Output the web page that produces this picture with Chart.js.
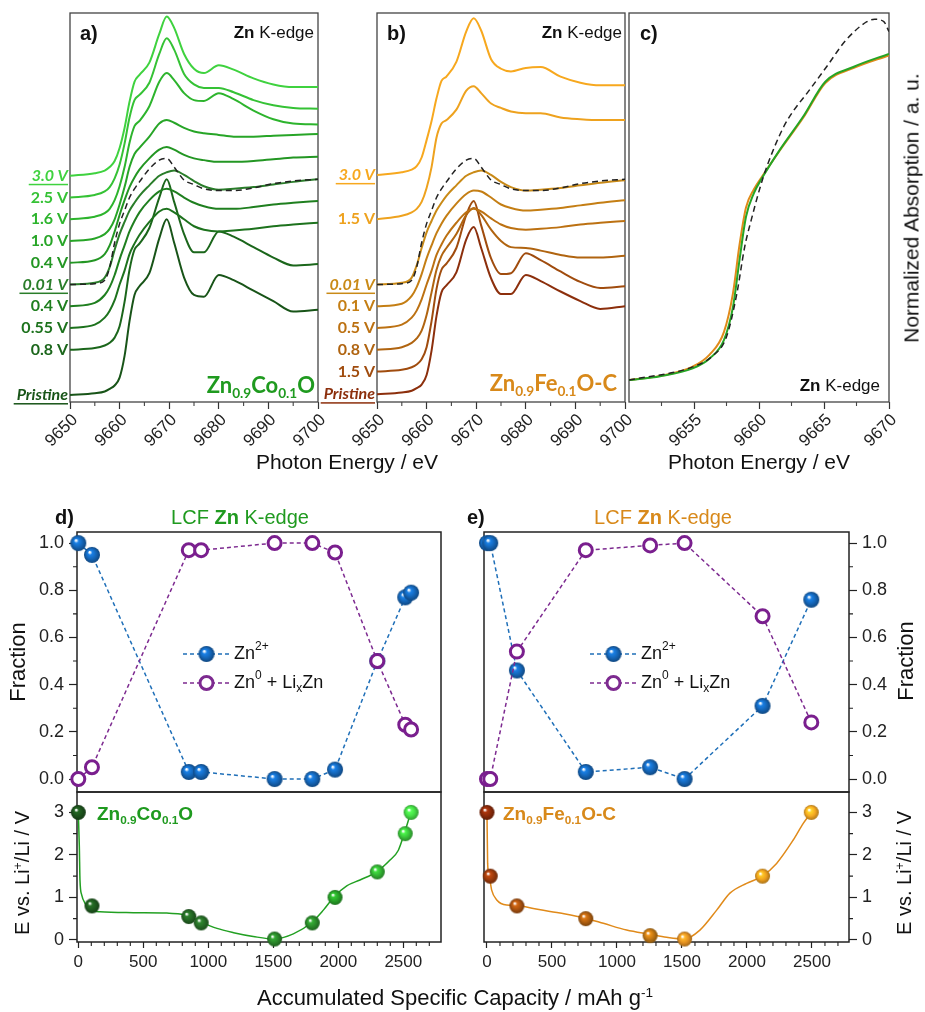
<!DOCTYPE html>
<html>
<head>
<meta charset="utf-8">
<script src="https://cdn.jsdelivr.net/npm/chart.js@4.4.1/dist/chart.umd.min.js"></script>
<style>
  body { margin: 0; background: #fff; width: 925px; height: 1012px; position: relative; overflow: hidden;
         font-family: "Liberation Sans", Arial, sans-serif; color: #111; }
  canvas { position: absolute; }
  .t { position: absolute; white-space: nowrap; line-height: 1; }
  .l { transform: translate(0, -50%); }
  .r { transform: translate(-100%, -50%); }
  .c { transform: translate(-50%, -50%); }
  .v { transform: translate(-50%, -50%) rotate(-90deg); }
  .cal { font-family: Lato, "Open Sans", sans-serif; font-weight: 700; }
  sub { font-size: 0.62em; vertical-align: -0.35em; line-height: 0; }
  sup { font-size: 0.62em; vertical-align: 0.6em; line-height: 0; }
</style>
</head>
<body>
<canvas id="ca" width="340" height="470" style="left:0;top:0"></canvas>
<canvas id="cb" width="345" height="470" style="left:300px;top:0"></canvas>
<canvas id="cc" width="309" height="470" style="left:600px;top:0"></canvas>
<canvas id="cdu" width="460" height="312" style="left:0;top:500px"></canvas>
<canvas id="cdl" width="460" height="230" style="left:0;top:770px"></canvas>
<canvas id="ceu" width="455" height="312" style="left:470px;top:500px"></canvas>
<canvas id="cel" width="455" height="230" style="left:470px;top:770px"></canvas>

<div class="t l" style="left:80px;top:33px;font-size:20px;font-weight:bold">a)</div>
<div class="t r" style="left:314px;top:32px;font-size:17px"><b>Zn</b> K-edge</div>
<div class="t r cal" style="left:315px;top:385px;font-size:22px;color:#1f9a1f">Zn<sub>0.9</sub>Co<sub>0.1</sub>O</div>
<div class="t l" style="left:387px;top:33px;font-size:20px;font-weight:bold">b)</div>
<div class="t r" style="left:622px;top:32px;font-size:17px"><b>Zn</b> K-edge</div>
<div class="t r cal" style="left:617px;top:383px;font-size:22px;color:#d8891a">Zn<sub>0.9</sub>Fe<sub>0.1</sub>O-C</div>
<div class="t l" style="left:640px;top:33px;font-size:20px;font-weight:bold">c)</div>
<div class="t r" style="left:880px;top:385px;font-size:17px"><b>Zn</b> K-edge</div>
<div class="t c" style="left:347px;top:461px;font-size:21px">Photon Energy / eV</div>
<div class="t c" style="left:759px;top:461px;font-size:21px">Photon Energy / eV</div>
<div class="t v" style="left:911px;top:208px;font-size:21px">Normalized Absorption / a. u.</div>

<div class="t l" style="left:55px;top:517px;font-size:20px;font-weight:bold">d)</div>
<div class="t c" style="left:240px;top:517px;font-size:20px;color:#1f9a1f">LCF <b>Zn</b> K-edge</div>
<div class="t l" style="left:467px;top:517px;font-size:20px;font-weight:bold">e)</div>
<div class="t c" style="left:663px;top:517px;font-size:20px;color:#d8891a">LCF <b>Zn</b> K-edge</div>
<div class="t v" style="left:18px;top:662px;font-size:22px">Fraction</div>
<div class="t v" style="left:906px;top:661px;font-size:22px">Fraction</div>
<div class="t v" style="left:22px;top:873px;font-size:20px">E vs. Li<sup>+</sup>/Li / V</div>
<div class="t v" style="left:904px;top:873px;font-size:20px">E vs. Li<sup>+</sup>/Li / V</div>
<div class="t l" style="left:97px;top:813px;font-size:19px;font-weight:bold;color:#1f9a1f">Zn<sub>0.9</sub>Co<sub>0.1</sub>O</div>
<div class="t l" style="left:503px;top:813px;font-size:19px;font-weight:bold;color:#d8891a">Zn<sub>0.9</sub>Fe<sub>0.1</sub>O-C</div>
<div class="t c" style="left:455px;top:998px;font-size:22px">Accumulated Specific Capacity / mAh g<sup>-1</sup></div>

<script>
// ---------- panel a / b : stacked Zn K-edge XANES (normalized, read at these energies) ----------
const energy = [9650, 9655, 9657, 9658, 9659, 9660, 9661, 9662, 9663, 9664, 9666, 9668, 9669.5,
                9671, 9673, 9675, 9677, 9680, 9683, 9687, 9691, 9695, 9700];
const energyTicks = [9650, 9660, 9670, 9680, 9690, 9700];
const energyMinor = [9655, 9665, 9675, 9685, 9695];

const a_3_0V  = [0, 0.03, 0.06, 0.1, 0.17, 0.32, 0.55, 0.85, 1.08, 1.16, 1.3, 1.63, 1.83, 1.7, 1.4, 1.23, 1.18, 1.27, 1.22, 1.12, 1.05, 1.02, 1.02];
const a_2_5V  = [0, 0.03, 0.07, 0.12, 0.22, 0.38, 0.62, 0.92, 1.12, 1.18, 1.32, 1.65, 1.83, 1.7, 1.42, 1.3, 1.26, 1.26, 1.21, 1.12, 1.06, 1.03, 1.02];
const a_1_6V  = [0, 0.03, 0.07, 0.12, 0.22, 0.38, 0.6, 0.88, 1.07, 1.13, 1.3, 1.58, 1.68, 1.6, 1.45, 1.37, 1.36, 1.45, 1.38, 1.25, 1.15, 1.1, 1.09];
const a_1_0V  = [0, 0.03, 0.08, 0.14, 0.25, 0.42, 0.62, 0.85, 1.0, 1.07, 1.2, 1.35, 1.39, 1.36, 1.3, 1.26, 1.24, 1.22, 1.2, 1.2, 1.21, 1.22, 1.23];
const a_0_4Vc = [0, 0.03, 0.1, 0.2, 0.36, 0.55, 0.72, 0.87, 0.98, 1.07, 1.2, 1.3, 1.33, 1.3, 1.24, 1.2, 1.18, 1.16, 1.16, 1.17, 1.19, 1.21, 1.22];
const a_0_01V = [0, 0.02, 0.08, 0.2, 0.4, 0.58, 0.72, 0.85, 0.94, 1.02, 1.14, 1.25, 1.29, 1.31, 1.26, 1.19, 1.13, 1.09, 1.1, 1.12, 1.15, 1.18, 1.21];
const a_0_4Vd = [0, 0.04, 0.13, 0.22, 0.36, 0.54, 0.7, 0.86, 0.98, 1.08, 1.22, 1.32, 1.35, 1.32, 1.25, 1.19, 1.15, 1.12, 1.12, 1.14, 1.17, 1.19, 1.21];
const a_0_55V = [0, 0.04, 0.12, 0.2, 0.32, 0.5, 0.66, 0.85, 0.97, 1.07, 1.22, 1.34, 1.37, 1.33, 1.25, 1.17, 1.13, 1.11, 1.12, 1.14, 1.17, 1.19, 1.21];
const a_0_8V  = [0, 0.02, 0.05, 0.08, 0.14, 0.27, 0.55, 0.92, 1.15, 1.22, 1.4, 1.75, 1.96, 1.7, 1.33, 1.12, 1.12, 1.36, 1.3, 1.18, 1.06, 0.97, 0.985];
const a_prist = [0, 0.02, 0.04, 0.07, 0.11, 0.2, 0.45, 0.85, 1.15, 1.25, 1.4, 1.8, 2.02, 1.75, 1.35, 1.15, 1.13, 1.38, 1.32, 1.2, 1.08, 0.96, 0.98];
const znRef   = [0, 0.01, 0.05, 0.2, 0.48, 0.7, 0.85, 1.0, 1.1, 1.18, 1.33, 1.43, 1.45, 1.35, 1.2, 1.15, 1.1, 1.08, 1.08, 1.11, 1.16, 1.19, 1.21];

const aLabels  = ['3.0 V', '2.5 V', '1.6 V', '1.0 V', '0.4 V', '0.01 V', '0.4 V', '0.55 V', '0.8 V', 'Pristine'];
const aOffsets = [2.6, 2.35, 2.1, 1.85, 1.6, 1.35, 1.1, 0.85, 0.6, 0.08];
const aColors  = ['#3fd23f', '#35c235', '#2db42d', '#27a527', '#239623', '#2a7d2a', '#1f7f1f', '#1d721d', '#1b661b', '#185418'];
const aCurves  = [a_3_0V, a_2_5V, a_1_6V, a_1_0V, a_0_4Vc, a_0_01V, a_0_4Vd, a_0_55V, a_0_8V, a_prist];

const b_3_0V  = [0, 0.03, 0.06, 0.1, 0.2, 0.4, 0.62, 0.88, 1.08, 1.13, 1.3, 1.65, 1.8, 1.66, 1.33, 1.22, 1.19, 1.23, 1.24, 1.13, 1.06, 1.03, 1.03];
const b_1_5Vc = [0, 0.04, 0.08, 0.12, 0.2, 0.36, 0.6, 0.94, 1.1, 1.14, 1.26, 1.48, 1.53, 1.45, 1.33, 1.28, 1.24, 1.22, 1.22, 1.17, 1.15, 1.14, 1.14];
const b_0_01V = [0, 0.02, 0.08, 0.22, 0.42, 0.6, 0.73, 0.85, 0.94, 1.02, 1.14, 1.25, 1.29, 1.31, 1.26, 1.18, 1.12, 1.08, 1.09, 1.11, 1.14, 1.17, 1.2];
const b_0_1V  = [0, 0.03, 0.12, 0.22, 0.37, 0.55, 0.7, 0.84, 0.95, 1.04, 1.18, 1.29, 1.33, 1.32, 1.25, 1.17, 1.13, 1.1, 1.11, 1.13, 1.16, 1.19, 1.22];
const b_0_5V  = [0, 0.04, 0.12, 0.2, 0.33, 0.5, 0.66, 0.84, 0.96, 1.06, 1.21, 1.33, 1.37, 1.34, 1.26, 1.19, 1.15, 1.13, 1.14, 1.16, 1.19, 1.21, 1.23];
const b_0_8V  = [0, 0.03, 0.08, 0.13, 0.22, 0.4, 0.66, 0.92, 1.08, 1.17, 1.33, 1.55, 1.63, 1.55, 1.38, 1.25, 1.18, 1.17, 1.14, 1.09, 1.06, 1.06, 1.08];
const b_1_5Vd = [0, 0.02, 0.05, 0.08, 0.14, 0.28, 0.58, 0.95, 1.17, 1.24, 1.42, 1.8, 1.96, 1.68, 1.3, 1.12, 1.13, 1.36, 1.28, 1.15, 1.03, 0.96, 0.98];
const b_prist = [0, 0.02, 0.04, 0.07, 0.11, 0.22, 0.5, 0.9, 1.17, 1.25, 1.4, 1.78, 1.92, 1.68, 1.33, 1.15, 1.15, 1.37, 1.3, 1.18, 1.07, 0.98, 1.01];

const bLabels  = ['3.0 V', '1.5 V', '0.01 V', '0.1 V', '0.5 V', '0.8 V', '1.5 V', 'Pristine'];
const bOffsets = [2.61, 2.1, 1.35, 1.1, 0.85, 0.6, 0.35, 0.09];
const bColors  = ['#f7a81e', '#eea21e', '#c98a17', '#c47e14', '#bc7112', '#b06410', '#a04c0e', '#8c2f0c'];
const bCurves  = [b_3_0V, b_1_5Vc, b_0_01V, b_0_1V, b_0_5V, b_0_8V, b_1_5Vd, b_prist];

// ---------- panel c : edge region ----------
const cEnergy = [9650, 9652.4, 9654.9, 9656.2, 9657.3, 9658.0, 9658.5, 9659.0, 9659.6, 9660.3, 9661.6, 9663.4, 9665.1, 9667.3, 9670];
const cCoO    = [0, 0.013, 0.039, 0.072, 0.133, 0.244, 0.4, 0.544, 0.622, 0.678, 0.767, 0.878, 0.994, 1.044, 1.087];
const cFeOC   = [0, 0.014, 0.045, 0.085, 0.16, 0.29, 0.45, 0.575, 0.635, 0.682, 0.765, 0.874, 0.99, 1.04, 1.082];
const cRefE   = [9650, 9654.9, 9656.5, 9657.5, 9658.3, 9658.9, 9659.4, 9660.1, 9660.6, 9661.9, 9662.7, 9663.7, 9665.2, 9666.7, 9668.3, 9668.9, 9669.6, 9670];
const cRef    = [0, 0.044, 0.083, 0.144, 0.289, 0.444, 0.533, 0.644, 0.711, 0.844, 0.9, 0.956, 1.044, 1.133, 1.194, 1.202, 1.194, 1.161];
const cTicks  = [9655, 9660, 9665, 9670];
const cMinor  = [9652.5, 9657.5, 9662.5, 9667.5];

// ---------- panel d / e : LCF fractions and voltage profile ----------
const dCap   = [0, 105, 850, 945, 1510, 1800, 1975, 2300, 2515, 2560];
const dVolt  = [3.0, 0.8, 0.55, 0.4, 0.02, 0.4, 1.0, 1.6, 2.5, 3.0];
const dZn2   = [1.0, 0.95, 0.03, 0.03, 0.0, 0.0, 0.04, 0.5, 0.77, 0.79];
const dZn0   = [0.0, 0.05, 0.97, 0.97, 1.0, 1.0, 0.96, 0.5, 0.23, 0.21];
const dDots  = ['#1c521c', '#1e5a1e', '#236523', '#266c26', '#2a862a', '#2a8a2a', '#28a028', '#33b233', '#3bc43b', '#45dc45'];
const dCurveCap = [0, 8, 13, 26, 52, 103, 167, 423, 680, 782, 850, 938, 1067, 1195, 1346, 1508, 1654, 1795, 1885, 1970, 2065, 2167, 2295, 2398, 2462, 2506, 2540, 2558];
const dCurveV   = [3.0, 2.19, 1.4, 1.06, 0.86, 0.7, 0.66, 0.64, 0.63, 0.61, 0.56, 0.43, 0.27, 0.17, 0.08, 0.02, 0.14, 0.41, 0.7, 1.02, 1.27, 1.41, 1.6, 1.88, 2.11, 2.49, 2.82, 3.0];

const eCap   = [0, 25, 230, 760, 1255, 1520, 2120, 2495];
const eVolt  = [3.0, 1.5, 0.8, 0.5, 0.1, 0.02, 1.5, 3.0];
const eZn2   = [1.0, 1.0, 0.46, 0.03, 0.05, 0.0, 0.31, 0.76];
const eZn0   = [0.0, 0.0, 0.54, 0.97, 0.99, 1.0, 0.69, 0.24];
const eDots  = ['#8a2a0a', '#9c3a0c', '#a9520f', '#b05f10', '#c07613', '#e59222', '#eea01e', '#f7aa22'];
const eCurveCap = [0, 5, 18, 36, 75, 151, 228, 356, 562, 756, 895, 1074, 1254, 1382, 1518, 1638, 1767, 1869, 1997, 2113, 2228, 2356, 2433, 2495];
const eCurveV   = [3.0, 1.8, 1.49, 1.17, 0.94, 0.82, 0.81, 0.74, 0.63, 0.51, 0.39, 0.23, 0.13, 0.06, 0.02, 0.23, 0.7, 1.1, 1.33, 1.49, 1.8, 2.35, 2.74, 3.0];

const fracTicks = [0, 0.2, 0.4, 0.6, 0.8, 1.0];
const fracMinor = [0.1, 0.3, 0.5, 0.7, 0.9];
const voltTicks = [0, 1, 2, 3];
const voltMinor = [0.5, 1.5, 2.5];
const capTicks  = [0, 500, 1000, 1500, 2000, 2500];
const capMinor  = [];
for (let v = 100; v <= 2700; v += 100) if (v % 500) capMinor.push(v);

// ---------- helpers ----------
Chart.defaults.font.family = '"Liberation Sans", Arial, sans-serif';
Chart.defaults.color = '#222';
Chart.defaults.animation = false;
Chart.defaults.events = [];
Chart.defaults.plugins.legend.display = false;
Chart.defaults.plugins.tooltip.enabled = false;

const pts = (xs, ys, off = 0) => xs.map((x, i) => ({ x: x, y: ys[i] + off }));
const fixedTicks = vals => s => { s.ticks = vals.map(v => ({ value: v })); };

function shade(hex, k) {
    const n = parseInt(hex.slice(1), 16);
    const f = c => Math.max(0, Math.min(255, Math.round(c * (1 + k))));
    return `rgb(${f(n >> 16)},${f((n >> 8) & 255)},${f(n & 255)})`;
}

function sphere(color, r) {
    const c = document.createElement('canvas');
    const s = Math.ceil(2 * r + 2);
    c.width = c.height = s;
    const g = c.getContext('2d');
    const m = s / 2;
    const grad = g.createRadialGradient(m - r * 0.3, m - r * 0.35, r * 0.08, m, m, r);
    grad.addColorStop(0, '#ffffff');
    grad.addColorStop(0.22, shade(color, 0.25));
    grad.addColorStop(0.6, color);
    grad.addColorStop(1, shade(color, -0.3));
    g.fillStyle = grad;
    g.beginPath();
    g.arc(m, m, r, 0, Math.PI * 2);
    g.fill();
    return c;
}

const framePlugin = {
    id: 'frame',
    beforeDatasetsDraw(chart, args, o) {
        const { ctx, chartArea: a, scales } = chart;
        ctx.save();
        ctx.strokeStyle = o.color || '#333';
        ctx.lineWidth = o.width || 1.3;
        ctx.strokeRect(a.left, a.top, a.right - a.left, a.bottom - a.top);
        ctx.lineWidth = 1.1;
        ctx.beginPath();
        (o.minorX || []).forEach(v => {
            const x = scales.x.getPixelForValue(v);
            ctx.moveTo(x, a.bottom);
            ctx.lineTo(x, a.bottom + o.len);
        });
        (o.minorY || []).forEach(v => {
            const y = scales.y.getPixelForValue(v);
            const x = o.ySide === 'right' ? a.right : a.left;
            ctx.moveTo(x, y);
            ctx.lineTo(x + (o.ySide === 'right' ? o.len : -o.len), y);
        });
        ctx.stroke();
        ctx.restore();
    }
};

// voltage labels left of the stacked spectra
const voltLabelPlugin = {
    id: 'voltLabels',
    afterDraw(chart, args, o) {
        if (!o.labels) return;
        const { ctx, chartArea } = chart;
        const ys = chart.scales.y;
        ctx.save();
        ctx.textAlign = 'right';
        ctx.textBaseline = 'middle';
        o.labels.forEach((t, i) => {
            const y = ys.getPixelForValue(o.offsets[i]);
            const emph = o.emph.includes(i);
            ctx.font = (emph ? 'italic ' : '') + 'bold 16px Lato, "Open Sans", sans-serif';
            ctx.fillStyle = o.colors[i];
            const x = chartArea.left - 2;
            ctx.fillText(t, x, y);
            if (emph) {
                const w = ctx.measureText(t).width;
                ctx.fillRect(x - w - 3, y + 8, w + 3, 1.5);
            }
        });
        ctx.restore();
    }
};

function richText(ctx, parts, x, y) {
    parts.forEach(p => {
        const small = p.k === 'sup' || p.k === 'sub';
        ctx.font = (small ? 12 : 18) + 'px "Liberation Sans", Arial, sans-serif';
        const dy = p.k === 'sup' ? -7 : p.k === 'sub' ? 6 : 0;
        ctx.fillText(p.t, x, y + dy);
        x += ctx.measureText(p.t).width;
    });
}

const fracLegendPlugin = {
    id: 'fracLegend',
    afterDraw(chart, args, o) {
        const { ctx, chartArea: a } = chart;
        const x0 = a.left + 106, x1 = x0 + 47, xm = (x0 + x1) / 2;
        const y1 = a.top + 122, y2 = a.top + 151;
        ctx.save();
        ctx.lineWidth = 1.5;
        ctx.setLineDash([4, 3]);
        ctx.strokeStyle = '#1f6fb8';
        ctx.beginPath(); ctx.moveTo(x0, y1); ctx.lineTo(x1, y1); ctx.stroke();
        ctx.strokeStyle = '#7d2a90';
        ctx.beginPath(); ctx.moveTo(x0, y2); ctx.lineTo(x1, y2); ctx.stroke();
        ctx.setLineDash([]);
        const img = blueBall;
        ctx.drawImage(img, xm - img.width / 2, y1 - img.height / 2);
        ctx.fillStyle = '#fff';
        ctx.lineWidth = 3;
        ctx.beginPath(); ctx.arc(xm, y2, 6.5, 0, Math.PI * 2); ctx.fill(); ctx.stroke();
        ctx.fillStyle = '#111';
        ctx.textBaseline = 'middle';
        richText(ctx, [{ t: 'Zn' }, { t: '2+', k: 'sup' }], x1 + 4, y1);
        richText(ctx, [{ t: 'Zn' }, { t: '0', k: 'sup' }, { t: ' + Li' }, { t: 'x', k: 'sub' }, { t: 'Zn' }], x1 + 4, y2);
        ctx.restore();
    }
};

const blueBall = sphere('#1566b8', 8);

function lineSet(data, color, width, dash) {
    return {
        data: data, showLine: true, pointRadius: 0, borderColor: color, borderWidth: width,
        borderDash: dash || [], cubicInterpolationMode: 'monotone', fill: false
    };
}

function energyAxis(min, max, ticks) {
    return {
        type: 'linear', min: min, max: max,
        afterBuildTicks: fixedTicks(ticks),
        afterFit: s => { s.height = 68; },
        grid: { drawOnChartArea: false, tickLength: 7, tickColor: '#333', tickWidth: 1.2 },
        border: { display: false },
        ticks: { minRotation: 45, maxRotation: 45, autoSkip: false, padding: 1, labelOffset: 5, color: '#222',
                 font: { size: 17 }, callback: v => String(v) }
    };
}

function stackedChart(id, pad, curves, offsets, colors, labels) {
    const sets = [lineSet(pts(energy, znRef, offsets[labels.indexOf('0.01 V')]), '#222', 1.5, [6, 4])];
    curves.forEach((c, i) => sets.push(lineSet(pts(energy, c, offsets[i]), colors[i], 2)));
    return new Chart(document.getElementById(id), {
        type: 'scatter',
        data: { datasets: sets },
        options: {
            responsive: false,
            layout: { padding: pad },
            scales: {
                x: energyAxis(9650, 9700, energyTicks),
                y: { display: false, min: 0, max: 4.471 }
            },
            plugins: {
                frame: { minorX: energyMinor, len: 4, color: '#444' },
                voltLabels: { labels: labels, offsets: offsets, colors: colors,
                              emph: [0, labels.indexOf('0.01 V'), labels.length - 1] }
            }
        },
        plugins: [framePlugin, voltLabelPlugin]
    });
}

stackedChart('ca', { left: 70, right: 22, top: 13, bottom: 0 }, aCurves, aOffsets, aColors, aLabels);
stackedChart('cb', { left: 77, right: 20, top: 13, bottom: 0 }, bCurves, bOffsets, bColors, bLabels);

new Chart(document.getElementById('cc'), {
    type: 'scatter',
    data: {
        datasets: [
            lineSet(pts(cRefE, cRef), '#222', 1.5, [6, 4]),
            lineSet(pts(cEnergy, cCoO), '#25a525', 2),
            lineSet(pts(cEnergy, cFeOC), '#e08a1a', 2)
        ]
    },
    options: {
        responsive: false,
        layout: { padding: { left: 29, right: 20, top: 13, bottom: 0 } },
        scales: {
            x: energyAxis(9650, 9670, cTicks),
            y: { display: false, min: -0.073, max: 1.223 }
        },
        plugins: { frame: { minorX: cMinor, len: 4, color: '#444' } }
    },
    plugins: [framePlugin]
});

function yAxis(side, min, max, ticks, width, fmt) {
    return {
        type: 'linear', position: side, min: min, max: max,
        afterBuildTicks: fixedTicks(ticks),
        afterFit: s => { s.width = width; },
        grid: { drawOnChartArea: false, tickLength: 8, tickColor: '#222', tickWidth: 1.2 },
        border: { display: false },
        ticks: { padding: 5, color: '#222', font: { size: 18 }, callback: fmt }
    };
}

function fractionChart(id, pad, side, xr, caps, zn2, zn0) {
    return new Chart(document.getElementById(id), {
        type: 'scatter',
        data: {
            datasets: [
                { data: pts(caps, zn0), showLine: true, borderColor: '#7d2a90', borderWidth: 1.5,
                  borderDash: [4, 3], pointRadius: 6.5, pointBorderWidth: 3, pointBorderColor: '#7a1f8e',
                  pointBackgroundColor: '#fff', clip: false },
                { data: pts(caps, zn2), showLine: true, borderColor: '#1f6fb8', borderWidth: 1.5,
                  borderDash: [4, 3], pointRadius: 8, pointStyle: blueBall, clip: false }
            ]
        },
        options: {
            responsive: false,
            layout: { padding: pad },
            scales: {
                x: { display: false, type: 'linear', min: xr[0], max: xr[1] },
                y: yAxis(side, -0.055, 1.047, fracTicks, side === 'left' ? 77 : 76, v => v.toFixed(1))
            },
            plugins: { frame: { minorY: fracMinor, ySide: side, len: 4, color: '#222', width: 1.5 } }
        },
        plugins: [framePlugin, fracLegendPlugin]
    });
}

function voltageChart(id, pad, side, xr, curveCap, curveV, caps, volts, dots, lineColor) {
    const balls = dots.map(c => sphere(c, 7.5));
    return new Chart(document.getElementById(id), {
        type: 'scatter',
        data: {
            datasets: [
                { data: pts(caps, volts), pointRadius: 7, pointStyle: balls, clip: false },
                lineSet(pts(curveCap, curveV), lineColor, 1.5)
            ]
        },
        options: {
            responsive: false,
            layout: { padding: pad },
            scales: {
                x: {
                    type: 'linear', min: xr[0], max: xr[1],
                    afterBuildTicks: fixedTicks(capTicks),
                    afterFit: s => { s.height = 58; },
                    grid: { drawOnChartArea: false, tickLength: 6, tickColor: '#222', tickWidth: 1.2 },
                    border: { display: false },
                    ticks: { padding: 4, color: '#222', font: { size: 17 }, maxRotation: 0, autoSkip: false,
                             callback: v => String(v) }
                },
                y: yAxis(side, -0.05, 3.48, voltTicks, side === 'left' ? 77 : 76, v => String(v))
            },
            plugins: { frame: { minorX: capMinor, minorY: voltMinor, ySide: side, len: 4, color: '#222', width: 1.5 } }
        },
        plugins: [framePlugin]
    });
}

fractionChart('cdu', { left: 0, right: 19, top: 32, bottom: 20 }, 'left', [-10, 2790], dCap, dZn2, dZn0);
voltageChart('cdl', { left: 0, right: 19, top: 22, bottom: 0 }, 'left', [-10, 2790],
             dCurveCap, dCurveV, dCap, dVolt, dDots, '#22a022');
fractionChart('ceu', { left: 14, right: 0, top: 32, bottom: 20 }, 'right', [-23, 2785], eCap, eZn2, eZn0);
voltageChart('cel', { left: 14, right: 0, top: 22, bottom: 0 }, 'right', [-23, 2785],
             eCurveCap, eCurveV, eCap, eVolt, eDots, '#e08a1a');
</script>
</body>
</html>
